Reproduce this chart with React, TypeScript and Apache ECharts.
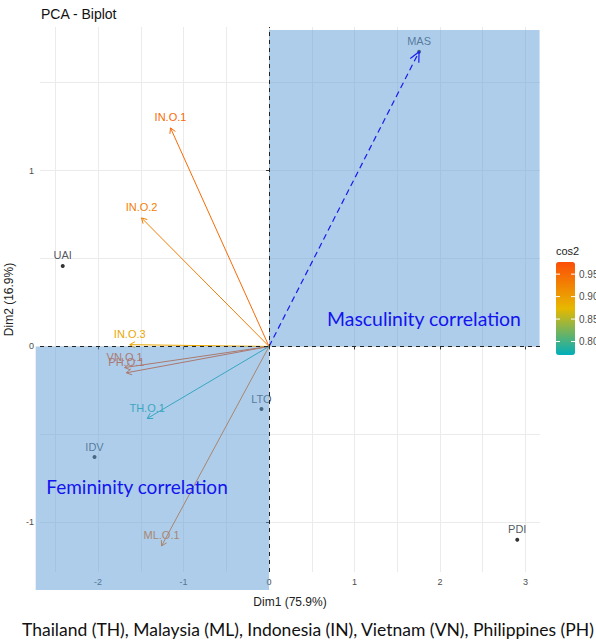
import React, { useEffect, useRef } from "react";
import * as echarts from "echarts";

const chartTitle = "PCA - Biplot";
const xAxisTitle = "Dim1 (75.9%)";
const yAxisTitle = "Dim2 (16.9%)";
const caption = "Thailand (TH), Malaysia (ML), Indonesia (IN), Vietnam (VN), Philippines (PH)";
const mascText = "Masculinity correlation";
const femText = "Femininity correlation";

// individuals (points)
const indNames = ["UAI", "IDV", "LTO", "MAS", "PDI"];
const indX = [-2.414, -2.042, -0.089, 1.755, 2.904];
const indY = [0.458, -0.629, -0.356, 1.676, -1.1];

// variables (arrows)
const varNames = ["IN.O.1", "IN.O.2", "IN.O.3", "VN.O.1", "PH.O.1", "TH.O.1", "ML.O.1"];
const varX = [-1.153, -1.492, -1.63, -1.69, -1.67, -1.426, -1.258];
const varY = [1.243, 0.731, 0.01, -0.12, -0.15, -0.41, -1.135];
const varCos2 = [0.95, 0.93, 0.89, 0.968, 0.972, 0.78, 0.945];

// supplementary dashed arrow
const supX = [1.755];
const supY = [1.676];

// axes
const xRange = [-2.68, 3.17];
const yRange = [-1.283, 1.817];
const xTicks = [-2, -1, 0, 1, 2, 3];
const yTicks = [-1, 0, 1];
const xGrid = [-2.5, -2, -1.5, -1, -0.5, 0, 0.5, 1, 1.5, 2, 2.5, 3];
const yGrid = [-1, -0.5, 0, 0.5, 1, 1.5];

// legend
const cos2Range = [0.77, 0.977];
const cos2Ticks = [0.8, 0.85, 0.9, 0.95];
const cos2Colors = ["#00AFBB", "#E7B800", "#FC4E07"];

// highlighted quadrants [x0, y0, x1, y1]
const quadrants = [
  [-2.73, -1.386, 0, 0],
  [0, 0, 3.165, 1.8],
];

const FONT = '"Liberation Sans", Arial, sans-serif';
const CAL = 'Lato, "Open Sans", sans-serif';

const GRID = { left: 40, right: 56, top: 27, bottom: 69 };
const LEG = { left: 556, top: 262, w: 19, h: 93 };

export default function App() {
  const ref = useRef<HTMLDivElement>(null);
  useEffect(() => {
    if (!ref.current) return;
    const chart = echarts.init(ref.current, null, { renderer: "svg" });

    const arrowData = varX.map((x, i) => [x, varY[i], varCos2[i]]);

    const legendGraphics: any[] = [];
    legendGraphics.push({
      type: "text",
      left: LEG.left,
      top: LEG.top - 17,
      z: 100,
      style: { text: "cos2", font: `11px ${FONT}`, fill: "#222" },
    });
    cos2Ticks.forEach((v) => {
      const y = LEG.top + ((cos2Range[1] - v) / (cos2Range[1] - cos2Range[0])) * LEG.h;
      legendGraphics.push({
        type: "line",
        z: 100,
        shape: { x1: LEG.left, y1: y, x2: LEG.left + 4, y2: y },
        style: { stroke: "#fff", lineWidth: 1 },
      });
      legendGraphics.push({
        type: "line",
        z: 100,
        shape: { x1: LEG.left + LEG.w - 4, y1: y, x2: LEG.left + LEG.w, y2: y },
        style: { stroke: "#fff", lineWidth: 1 },
      });
      legendGraphics.push({
        type: "text",
        z: 100,
        x: LEG.left + LEG.w + 4,
        y,
        style: {
          text: v.toFixed(2),
          font: `10px ${FONT}`,
          fill: "#4D4D4D",
          verticalAlign: "middle",
          align: "left",
        },
      });
    });

    const option: any = {
      animation: false,
      backgroundColor: "#ffffff",
      grid: { ...GRID, containLabel: false, outerBoundsMode: "none" },
      xAxis: [
        {
          type: "value",
          min: xRange[0],
          max: xRange[1],
          name: xAxisTitle,
          nameLocation: "middle",
          nameGap: 24,
          nameTextStyle: { fontFamily: FONT, fontSize: 12, color: "#222" },
          axisLine: { show: false },
          axisTick: { show: false, customValues: xGrid },
          axisLabel: {
            customValues: xTicks,
            fontFamily: FONT,
            fontSize: 9,
            color: "#4D4D4D",
            margin: 5,
          },
          splitLine: { show: true, lineStyle: { color: "#EBEBEB", width: 1 } },
        },
        {
          type: "value",
          min: xRange[0],
          max: xRange[1],
          position: "bottom",
          axisLine: { show: false },
          axisTick: { show: true, customValues: xTicks, length: 3, lineStyle: { color: "#333" } },
          axisLabel: { show: false },
          splitLine: { show: false },
        },
      ],
      yAxis: [
        {
          type: "value",
          min: yRange[0],
          max: yRange[1],
          name: yAxisTitle,
          nameLocation: "middle",
          nameGap: 22,
          nameRotate: 90,
          nameTextStyle: { fontFamily: FONT, fontSize: 12, color: "#222" },
          axisLine: { show: false },
          axisTick: { show: false, customValues: yGrid },
          axisLabel: {
            customValues: yTicks,
            fontFamily: FONT,
            fontSize: 9,
            color: "#4D4D4D",
            margin: 6,
          },
          splitLine: { show: true, lineStyle: { color: "#EBEBEB", width: 1 } },
        },
        {
          type: "value",
          min: yRange[0],
          max: yRange[1],
          position: "left",
          axisLine: { show: false },
          axisTick: { show: true, customValues: yTicks, length: 3, lineStyle: { color: "#333" } },
          axisLabel: { show: false },
          splitLine: { show: false },
        },
      ],
      visualMap: {
        type: "continuous",
        seriesIndex: 1,
        dimension: 2,
        min: cos2Range[0],
        max: cos2Range[1],
        inRange: { color: cos2Colors },
        calculable: false,
        hoverLink: false,
        left: LEG.left,
        top: LEG.top,
        itemWidth: LEG.w,
        itemHeight: LEG.h,
        padding: 0,
        text: null,
      },
      series: [
        {
          type: "scatter",
          z: 2,
          symbolSize: 4,
          itemStyle: { color: "#000" },
          data: indX.map((x, i) => ({ value: [x, indY[i]], name: indNames[i] })),
          label: {
            show: true,
            position: "top",
            distance: 3,
            formatter: (p: any) => p.name,
            fontFamily: FONT,
            fontSize: 11,
            color: "#252B36",
          },
        },
        {
          type: "custom",
          z: 2,
          data: arrowData,
          renderItem: (params: any, api: any) => {
            const x = api.value(0);
            const y = api.value(1);
            const o = api.coord([0, 0]);
            const t = api.coord([x, y]);
            const color = api.visual("color");
            const ang = Math.atan2(t[1] - o[1], t[0] - o[0]);
            const L = 6;
            const a = Math.PI / 6;
            const p1 = [t[0] - L * Math.cos(ang - a), t[1] - L * Math.sin(ang - a)];
            const p2 = [t[0] - L * Math.cos(ang + a), t[1] - L * Math.sin(ang + a)];
            return {
              type: "group",
              children: [
                {
                  type: "line",
                  shape: { x1: o[0], y1: o[1], x2: t[0], y2: t[1] },
                  style: { stroke: color, lineWidth: 1 },
                },
                {
                  type: "polyline",
                  shape: { points: [p1, t, p2] },
                  style: { stroke: color, fill: null, lineWidth: 1 },
                },
                {
                  type: "text",
                  x: t[0],
                  y: t[1] - 11,
                  style: {
                    text: varNames[params.dataIndex],
                    font: `11px ${FONT}`,
                    fill: color,
                    align: "center",
                    verticalAlign: "middle",
                  },
                },
              ],
            };
          },
        },
        {
          type: "custom",
          z: 3,
          silent: true,
          clip: false,
          data: quadrants,
          renderItem: (params: any, api: any) => {
            const p0 = api.coord([api.value(0), api.value(1)]);
            const p1 = api.coord([api.value(2), api.value(3)]);
            return {
              type: "rect",
              shape: {
                x: Math.min(p0[0], p1[0]),
                y: Math.min(p0[1], p1[1]),
                width: Math.abs(p1[0] - p0[0]),
                height: Math.abs(p1[1] - p0[1]),
              },
              style: { fill: "rgba(91,155,213,0.5)" },
            };
          },
        },
        {
          type: "custom",
          z: 6,
          data: supX.map((x, i) => [x, supY[i]]),
          renderItem: (params: any, api: any) => {
            const o = api.coord([0, 0]);
            const t = api.coord([api.value(0), api.value(1)]);
            const ang = Math.atan2(t[1] - o[1], t[0] - o[0]);
            const L = 11;
            const a = Math.PI / 7;
            const p1 = [t[0] - L * Math.cos(ang - a), t[1] - L * Math.sin(ang - a)];
            const p2 = [t[0] - L * Math.cos(ang + a), t[1] - L * Math.sin(ang + a)];
            return {
              type: "group",
              children: [
                {
                  type: "line",
                  shape: { x1: o[0], y1: o[1], x2: t[0], y2: t[1] },
                  style: { stroke: "#1A1AF0", lineWidth: 1.2, lineDash: [6, 4] },
                },
                {
                  type: "polyline",
                  shape: { points: [p1, t, p2] },
                  style: { stroke: "#1A1AF0", fill: null, lineWidth: 1.2 },
                },
              ],
            };
          },
        },
        {
          type: "line",
          data: [],
          silent: true,
          markLine: {
            silent: true,
            symbol: "none",
            label: { show: false },
            lineStyle: { type: [4, 4], color: "#222", width: 1 },
            data: [{ xAxis: 0 }, { yAxis: 0 }],
            z: 7,
          },
        },
      ],
      graphic: [
        {
          type: "text",
          left: 41,
          top: 7,
          z: 100,
          style: { text: chartTitle, font: `14px ${FONT}`, fill: "#111" },
        },
        {
          type: "text",
          x: 424,
          y: 318,
          z: 100,
          style: {
            text: mascText,
            font: `19.4px ${CAL}`,
            fill: "#1414F0",
            align: "center",
            verticalAlign: "middle",
          },
        },
        {
          type: "text",
          x: 137,
          y: 486,
          z: 100,
          style: {
            text: femText,
            font: `19px ${CAL}`,
            fill: "#1414F0",
            align: "center",
            verticalAlign: "middle",
          },
        },
        {
          type: "text",
          x: 22,
          y: 629,
          z: 100,
          style: {
            text: caption,
            font: `17.5px ${CAL}`,
            fill: "#111",
            align: "left",
            verticalAlign: "middle",
          },
        },
        ...legendGraphics,
      ],
    };

    chart.setOption(option);
    return () => chart.dispose();
  }, []);

  return (
    <div
      ref={ref}
      style={{ position: "absolute", left: 0, top: 0, width: 596, height: 641, background: "#fff" }}
    />
  );
}
